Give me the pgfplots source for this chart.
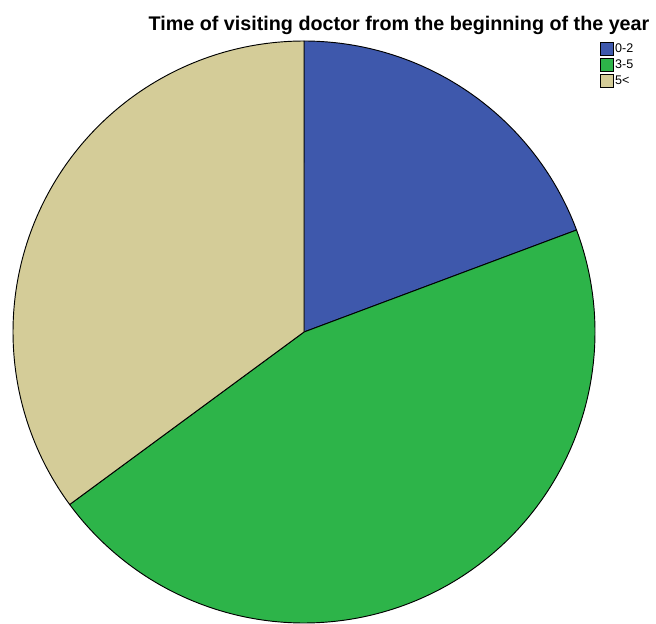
\documentclass[border=0pt]{standalone}
\usepackage{fontspec}
\setmainfont{Liberation Sans}
\usepackage{pgfplots}
\pgfplotsset{compat=1.18}
\definecolor{sliceA}{HTML}{3E58AC}
\definecolor{sliceB}{HTML}{2DB449}
\definecolor{sliceC}{HTML}{D4CC98}
% shares in percent
\def\pA{19.3}
\def\pB{45.6}
\def\pC{35.1}
\pgfmathsetmacro{\aA}{90}
\pgfmathsetmacro{\aB}{\aA-3.6*\pA}
\pgfmathsetmacro{\aC}{\aB-3.6*\pB}
\pgfmathsetmacro{\aD}{\aC-3.6*\pC}
\begin{document}
\begin{tikzpicture}
\begin{axis}[hide axis,scale only axis,width=492pt,height=467.25pt,
xmin=0,xmax=656,ymin=-2,ymax=621,clip=false,
legend style={at={(axis cs:599.5,579)},anchor=north west,draw=none,fill=none,
font=\fontsize{9.4}{10}\selectfont,row sep=1.6pt,inner sep=0pt,
nodes={inner sep=1.2pt,anchor=west}},
legend image code/.code={\draw[#1,line width=0.7pt] (0pt,-4.8pt) rectangle (9.6pt,4.8pt);},
every axis plot/.append style={draw=black,line width=0.7pt}]
\addplot[fill=sliceA,domain=\aA:\aB,samples=80] ({304+291*cos(x)},{289+291*sin(x)}) -- (304,289) -- cycle;
\addlegendentry{0-2}
\addplot[fill=sliceB,domain=\aB:\aC,samples=160] ({304+291*cos(x)},{289+291*sin(x)}) -- (304,289) -- cycle;
\addlegendentry{3-5}
\addplot[fill=sliceC,domain=\aC:\aD,samples=120] ({304+291*cos(x)},{289+291*sin(x)}) -- (304,289) -- cycle;
\addlegendentry{5<}
\path (0,-2) rectangle (656,621);
\node[font=\fontsize{14.8}{16}\selectfont\bfseries,anchor=base] at (399,590) {Time of visiting doctor from the beginning of the year};
\end{axis}
\end{tikzpicture}
\end{document}
